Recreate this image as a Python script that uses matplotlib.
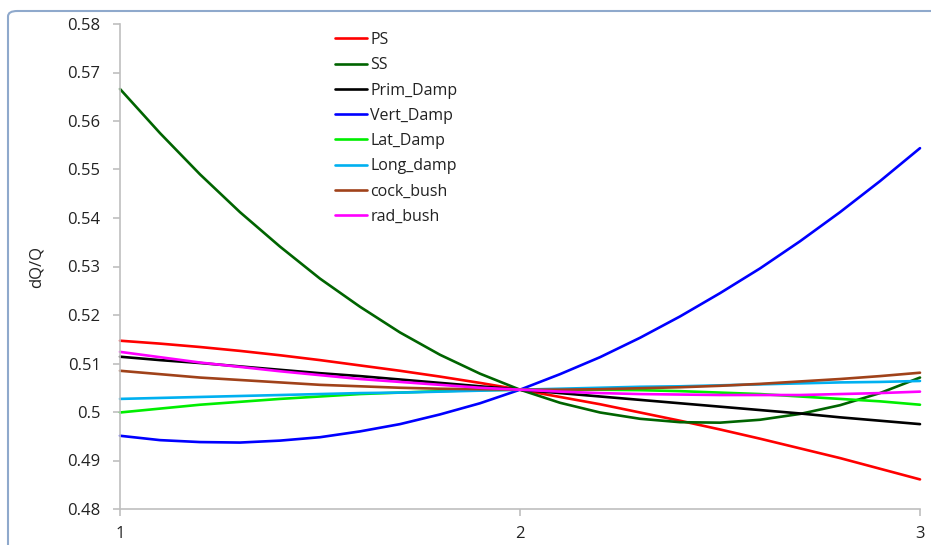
import matplotlib
matplotlib.use("Agg")
import matplotlib.pyplot as plt
from matplotlib.patches import FancyBboxPatch

plt.rcParams['font.family'] = ['Open Sans', 'DejaVu Sans']

x = [1.0, 1.1, 1.2, 1.3, 1.4, 1.5, 1.6, 1.7, 1.8, 1.9, 2.0,
     2.1, 2.2, 2.3, 2.4, 2.5, 2.6, 2.7, 2.8, 2.9, 3.0]

PS = [0.5147, 0.5141, 0.5134, 0.5126, 0.5117, 0.5107, 0.5096, 0.5085, 0.5073, 0.5060, 0.5046,
      0.5031, 0.5016, 0.4999, 0.4982, 0.4964, 0.4945, 0.4925, 0.4905, 0.4883, 0.4861]
SS = [0.5666, 0.5575, 0.5490, 0.5412, 0.5341, 0.5275, 0.5217, 0.5164, 0.5118, 0.5079, 0.5046,
      0.5019, 0.4999, 0.4986, 0.4979, 0.4978, 0.4984, 0.4996, 0.5014, 0.5039, 0.5071]
Prim_Damp = [0.5114, 0.5107, 0.5101, 0.5094, 0.5087, 0.5080, 0.5074, 0.5067, 0.5060, 0.5053, 0.5046,
             0.5039, 0.5032, 0.5025, 0.5018, 0.5011, 0.5004, 0.4997, 0.4989, 0.4982, 0.4975]
Vert_Damp = [0.4951, 0.4942, 0.4938, 0.4937, 0.4941, 0.4948, 0.4960, 0.4975, 0.4995, 0.5018, 0.5046,
             0.5078, 0.5113, 0.5153, 0.5197, 0.5245, 0.5296, 0.5352, 0.5412, 0.5476, 0.5544]
Lat_Damp = [0.4999, 0.5007, 0.5015, 0.5021, 0.5027, 0.5032, 0.5037, 0.5040, 0.5043, 0.5045, 0.5046,
            0.5046, 0.5046, 0.5045, 0.5043, 0.5040, 0.5037, 0.5032, 0.5027, 0.5022, 0.5015]
Long_damp = [0.5027, 0.5029, 0.5031, 0.5033, 0.5035, 0.5037, 0.5039, 0.5040, 0.5042, 0.5044, 0.5046,
             0.5048, 0.5050, 0.5052, 0.5053, 0.5055, 0.5057, 0.5059, 0.5061, 0.5062, 0.5064]
cock_bush = [0.5085, 0.5078, 0.5071, 0.5066, 0.5061, 0.5056, 0.5053, 0.5050, 0.5048, 0.5047, 0.5046,
             0.5046, 0.5047, 0.5049, 0.5051, 0.5054, 0.5058, 0.5063, 0.5068, 0.5074, 0.5081]
rad_bush = [0.5124, 0.5113, 0.5102, 0.5093, 0.5084, 0.5076, 0.5068, 0.5062, 0.5056, 0.5050, 0.5046,
            0.5042, 0.5039, 0.5037, 0.5036, 0.5035, 0.5035, 0.5035, 0.5037, 0.5039, 0.5042]

series_names = ["PS", "SS", "Prim_Damp", "Vert_Damp", "Lat_Damp", "Long_damp", "cock_bush", "rad_bush"]
series_values = [PS, SS, Prim_Damp, Vert_Damp, Lat_Damp, Long_damp, cock_bush, rad_bush]
colors = ["#FF0000", "#006400", "#000000", "#0000FF", "#00EE00", "#00B0F0", "#A0421A", "#FF00FF"]

y_ticks = [0.48, 0.49, 0.5, 0.51, 0.52, 0.53, 0.54, 0.55, 0.56, 0.57, 0.58]
y_tick_labels = ["0.48", "0.49", "0.5", "0.51", "0.52", "0.53", "0.54", "0.55", "0.56", "0.57", "0.58"]
x_ticks = [1, 2, 3]
x_tick_labels = ["1", "2", "3"]

W, H = 931, 545
fig = plt.figure(figsize=(W / 100, H / 100), dpi=100, facecolor="white")

# outer chart border
border = FancyBboxPatch((8 / W, -0.1), 1.2, 1 + 0.1 - 11 / H,
                        boxstyle="round,pad=0,rounding_size=0.01",
                        transform=fig.transFigure, facecolor="none",
                        edgecolor="#8FA9CC", linewidth=1.5, zorder=-5)
fig.patches.append(border)

ax = fig.add_axes([120 / W, 1 - 509 / H, 800 / W, 485 / H])
ax.set_facecolor("none")
ax.set_zorder(2)

for name, vals, c in zip(series_names, series_values, colors):
    ax.plot(x, vals, color=c, lw=1.9, label=name, solid_joinstyle="round",
            solid_capstyle="round", clip_on=False)

ax.set_xlim(1, 3)
ax.set_ylim(0.48, 0.58)
ax.set_xticks(x_ticks)
ax.set_xticklabels(x_tick_labels)
ax.set_yticks(y_ticks)
ax.set_yticklabels(y_tick_labels)

for s in ["top", "right"]:
    ax.spines[s].set_visible(False)
for s in ["left", "bottom"]:
    ax.spines[s].set_color("#BFBFBF")
    ax.spines[s].set_linewidth(1.2)

ax.tick_params(axis="both", colors="#BFBFBF", length=5, width=1.2,
               labelcolor="#222222", labelsize=12)
ax.tick_params(axis="y", pad=9)
ax.tick_params(axis="x", pad=7)

ax.set_ylabel("dQ/Q", fontsize=12, color="#222222", labelpad=16)

leg = ax.legend(loc="upper left", bbox_to_anchor=(335 / W, 1 - 32 / H),
                bbox_transform=fig.transFigure, frameon=False,
                fontsize=11.5, handlelength=2.0, handletextpad=0.2,
                labelspacing=0.58, borderaxespad=0, borderpad=0)
for t in leg.get_texts():
    t.set_color("#222222")

fig.savefig("out.png", dpi=100)
